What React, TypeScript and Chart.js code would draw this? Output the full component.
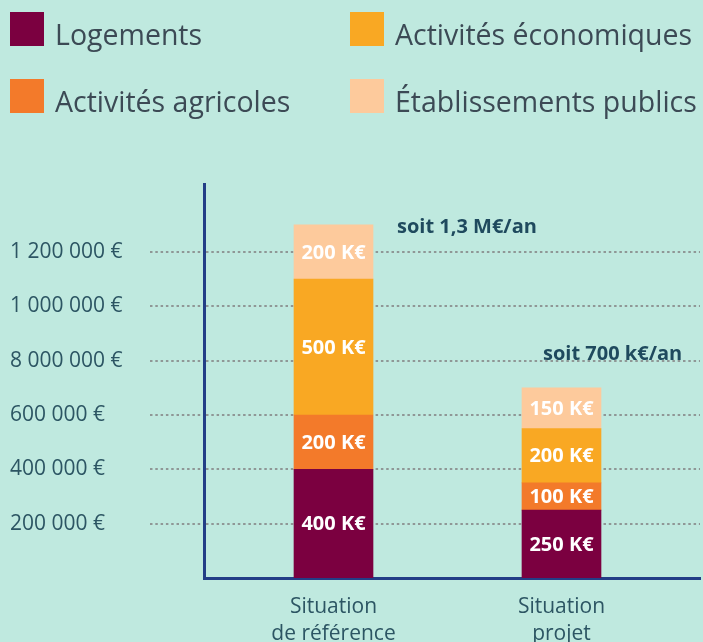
import React, { useEffect, useRef } from "react";
import { Chart, registerables } from "chart.js";

Chart.register(...registerables);

// ---------- data ----------
const categories: string[][] = [
  ["Situation", "de référence"],
  ["Situation", "projet"],
];
const seriesNames = [
  "Logements",
  "Activités agricoles",
  "Activités économiques",
  "Établissements publics",
];
const logements = [400000, 250000];
const agricoles = [200000, 100000];
const economiques = [500000, 200000];
const publics = [200000, 150000];
const yTickValues = [200000, 400000, 600000, 800000, 1000000, 1200000];
const yTickLabels = [
  "200 000 €",
  "400 000 €",
  "600 000 €",
  "8 000 000 €",
  "1 000 000 €",
  "1 200 000 €",
];
const totalNotes = ["soit 1,3 M€/an", "soit 700 k€/an"];

// ---------- style ----------
const BG = "#bfe9df";
const COLORS = ["#7b0040", "#f37a2a", "#f9a823", "#fdca9c"];
const AXIS = "#233e86";
const GRID = "#8f9796";
const TICK_TEXT = "#2c5563";
const LEGEND_TEXT = "#3c4a55";
const NOTE_TEXT = "#1f4a5e";
const FONT = "'Open Sans', 'DejaVu Sans', sans-serif";

const legendPlugin = {
  id: "customLegend",
  afterDraw(chart: any) {
    const ctx = chart.ctx;
    const colX = [10, 350];
    const rowY = [12, 79];
    const box = 34;
    ctx.save();
    ctx.font = `28.5px ${FONT}`;
    ctx.textBaseline = "alphabetic";
    ctx.textAlign = "left";
    chart.data.datasets.forEach((ds: any, i: number) => {
      const col = Math.floor(i / 2);
      const row = i % 2;
      const x = colX[col];
      const y = rowY[row];
      ctx.fillStyle = ds.backgroundColor;
      ctx.fillRect(x, y, box, box);
      ctx.fillStyle = LEGEND_TEXT;
      ctx.fillText(ds.label, x + 45, y + 33);
    });
    ctx.restore();
  },
};

const labelsPlugin = {
  id: "barLabels",
  afterDatasetsDraw(chart: any) {
    const ctx = chart.ctx;
    ctx.save();
    ctx.font = `bold 20px ${FONT}`;
    ctx.fillStyle = "#ffffff";
    ctx.textAlign = "center";
    ctx.textBaseline = "middle";
    chart.data.datasets.forEach((ds: any, di: number) => {
      const meta = chart.getDatasetMeta(di);
      meta.data.forEach((el: any, j: number) => {
        const v = ds.data[j].y;
        const { x, y, base } = el.getProps(["x", "y", "base"], true);
        ctx.fillText(`${v / 1000} K€`, x, (y + base) / 2 + 1);
      });
    });
    // totals
    const last = chart.getDatasetMeta(chart.data.datasets.length - 1);
    const noteOffsets = [
      { dx: 24, dy: 8.5, fromRight: true },
      { dx: 21, dy: -28, fromRight: false },
    ];
    ctx.font = `bold 20px ${FONT}`;
    ctx.fillStyle = NOTE_TEXT;
    ctx.textAlign = "left";
    ctx.textBaseline = "alphabetic";
    last.data.forEach((el: any, j: number) => {
      const { x, y, width } = el.getProps(["x", "y", "width"], true);
      const o = noteOffsets[j];
      const tx = o.fromRight ? x + width / 2 + o.dx : x - width / 2 + o.dx;
      ctx.fillText(totalNotes[j], tx, y + o.dy);
    });
    ctx.restore();
  },
};

export default function App() {
  const ref = useRef<HTMLCanvasElement | null>(null);

  useEffect(() => {
    if (!ref.current) return;
    const series = [logements, agricoles, economiques, publics];
    const chart = new Chart(ref.current, {
      type: "bar",
      data: {
        datasets: series.map((vals, i) => ({
          label: seriesNames[i],
          data: vals.map((v, j) => ({ x: j, y: v })),
          backgroundColor: COLORS[i],
          borderWidth: 0,
          barThickness: 79,
        })),
      },
      options: {
        animation: false,
        responsive: false,
        devicePixelRatio: 1,
        layout: { padding: { top: 184, left: 10, right: 3, bottom: 0 } },
        plugins: {
          legend: { display: false },
          tooltip: { enabled: false },
        },
        scales: {
          x: {
            type: "linear",
            stacked: true,
            offset: false,
            bounds: "ticks",
            min: -0.568,
            max: 1.6075,
            grid: { display: false, drawTicks: false, offset: false },
            border: { display: true, color: AXIS, width: 3 },
            afterBuildTicks: (axis: any) => {
              axis.ticks = categories.map((_, i) => ({ value: i }));
            },
            afterFit: (axis: any) => {
              axis.height = 64;
            },
            ticks: {
              padding: 15,
              color: TICK_TEXT,
              font: { family: FONT, size: 21, lineHeight: 1.3 },
              maxRotation: 0,
              autoSkip: false,
              callback: (value: any) => categories[Math.round(Number(value))] ?? "",
            },
          },
          y: {
            stacked: true,
            min: 0,
            max: 1450000,
            grid: {
              display: true,
              color: GRID,
              lineWidth: 2,
              drawTicks: true,
              tickLength: 54,
              tickColor: GRID,
              tickWidth: 2,
              tickBorderDash: [2.5, 2.8],
            },
            border: { display: true, color: AXIS, width: 3, dash: [2.5, 2.8] },
            afterBuildTicks: (axis: any) => {
              axis.ticks = yTickValues.map((v) => ({ value: v }));
            },
            afterFit: (axis: any) => {
              axis.width = 194;
            },
            ticks: {
              crossAlign: "far",
              padding: 0,
              color: TICK_TEXT,
              font: { family: FONT, size: 21 },
              autoSkip: false,
              callback: (_v: any, i: number) => yTickLabels[i],
            },
          },
        },
      },
      plugins: [legendPlugin, labelsPlugin],
    } as any);
    return () => chart.destroy();
  }, []);

  return (
    <div
      style={{
        position: "fixed",
        left: 0,
        top: 0,
        width: 703,
        height: 642,
        background: BG,
        overflow: "hidden",
      }}
    >
      <canvas ref={ref} width={703} height={642} style={{ display: "block" }} />
    </div>
  );
}
